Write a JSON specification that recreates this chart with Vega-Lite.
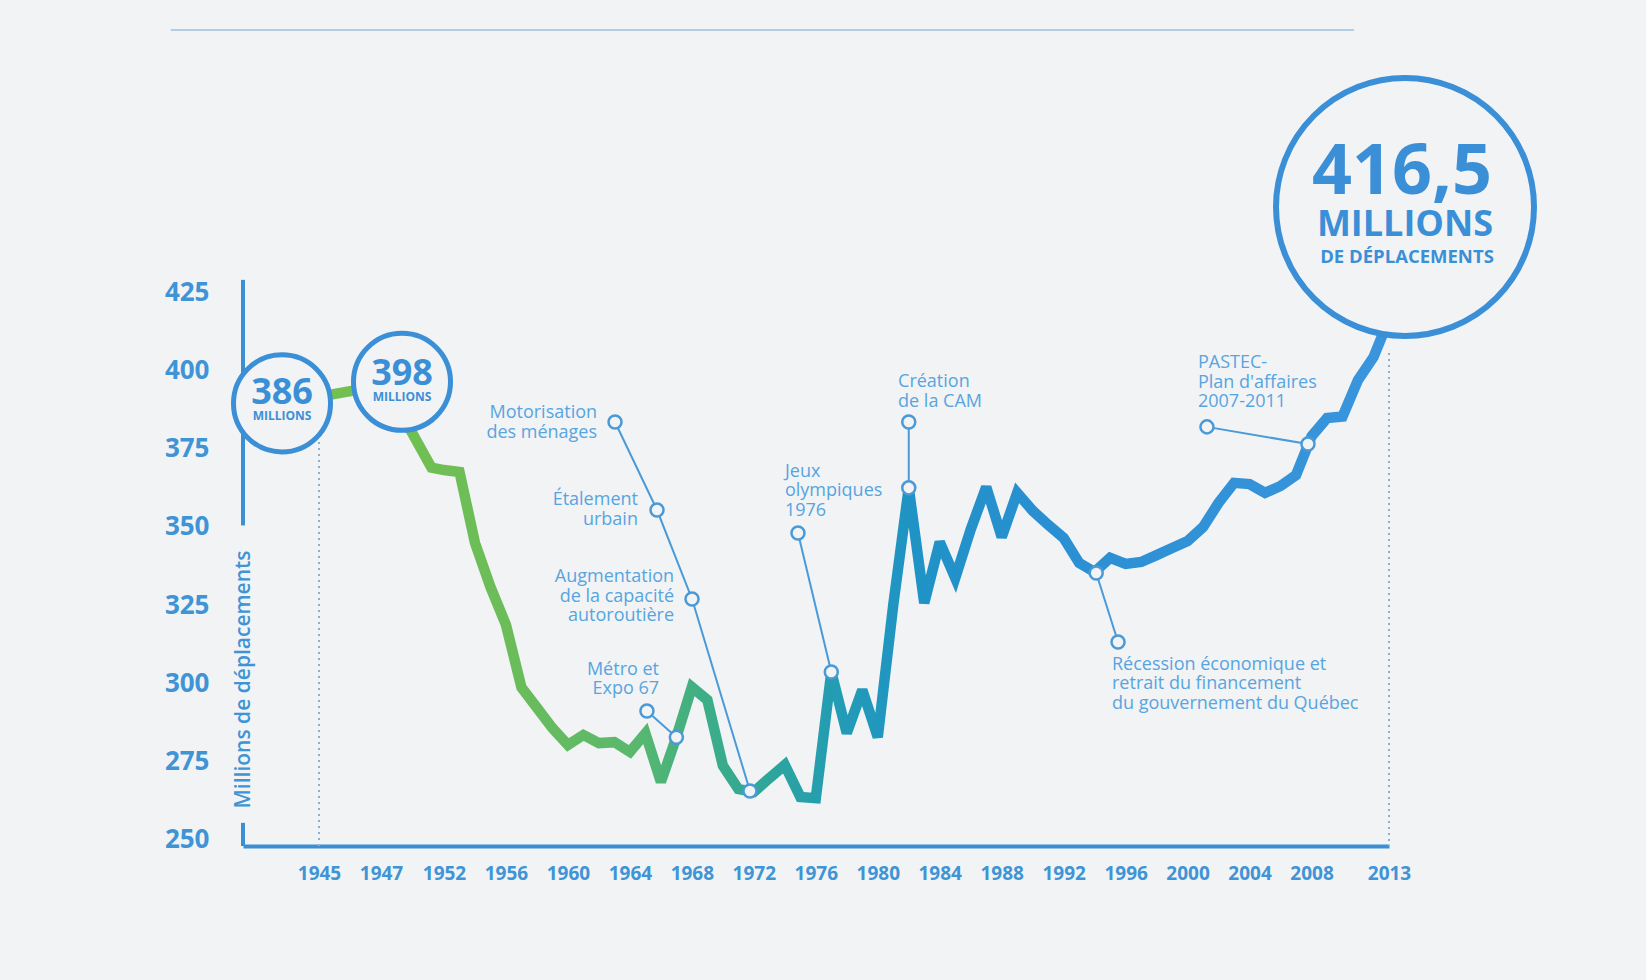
{
  "$schema": "https://vega.github.io/schema/vega-lite/v6.json",
  "width": 1146,
  "height": 563,
  "autosize": {"type": "none"},
  "padding": {"left": 243, "top": 283, "right": 257, "bottom": 134},
  "background": "#f1f3f5",
  "config": {"view": {"stroke": null}, "font": "Open Sans"},
  "datasets": {
    "series": [
      {"year": 1947, "value": 398},
      {"year": 1951, "value": 369.0},
      {"year": 1952, "value": 368.2},
      {"year": 1953, "value": 367.6},
      {"year": 1954, "value": 344.9},
      {"year": 1955, "value": 330.8},
      {"year": 1956, "value": 318.7},
      {"year": 1957, "value": 298.7},
      {"year": 1958, "value": 292.2},
      {"year": 1959, "value": 285.7},
      {"year": 1960, "value": 280.3},
      {"year": 1961, "value": 283.5},
      {"year": 1962, "value": 280.9},
      {"year": 1963, "value": 281.2},
      {"year": 1964, "value": 278.1},
      {"year": 1965, "value": 284.0},
      {"year": 1966, "value": 268.5},
      {"year": 1967, "value": 282.8},
      {"year": 1968, "value": 298.8},
      {"year": 1969, "value": 294.7},
      {"year": 1970, "value": 273.7},
      {"year": 1971, "value": 266.2},
      {"year": 1972, "value": 265.3},
      {"year": 1973, "value": 269.7},
      {"year": 1974, "value": 273.9},
      {"year": 1975, "value": 263.7},
      {"year": 1976, "value": 263.3},
      {"year": 1977, "value": 303.6},
      {"year": 1978, "value": 284.1},
      {"year": 1979, "value": 297.9},
      {"year": 1980, "value": 282.8},
      {"year": 1981, "value": 325.1},
      {"year": 1982, "value": 362.5},
      {"year": 1983, "value": 325.7},
      {"year": 1984, "value": 345.2},
      {"year": 1985, "value": 333.7},
      {"year": 1986, "value": 349.2},
      {"year": 1987, "value": 362.8},
      {"year": 1988, "value": 346.8},
      {"year": 1989, "value": 360.9},
      {"year": 1990, "value": 355.2},
      {"year": 1991, "value": 350.7},
      {"year": 1992, "value": 346.5},
      {"year": 1993, "value": 338.5},
      {"year": 1994, "value": 335.6},
      {"year": 1995, "value": 340.1},
      {"year": 1996, "value": 338.2},
      {"year": 1997, "value": 338.8},
      {"year": 1998, "value": 341.0},
      {"year": 1999, "value": 343.3},
      {"year": 2000, "value": 345.5},
      {"year": 2001, "value": 350.0},
      {"year": 2002, "value": 357.7},
      {"year": 2003, "value": 364.1},
      {"year": 2004, "value": 363.7},
      {"year": 2005, "value": 360.9},
      {"year": 2006, "value": 363.1},
      {"year": 2007, "value": 366.6},
      {"year": 2008, "value": 379.0},
      {"year": 2009, "value": 384.8},
      {"year": 2010, "value": 385.3},
      {"year": 2011, "value": 397.0},
      {"year": 2012, "value": 404.3},
      {"year": 2013, "value": 416.5}
    ],
    "circles": [
      {"year": 1945, "value": 386, "label": "386"},
      {"year": 1947, "value": 398, "label": "398"},
      {"year": 2013, "value": 416.5, "label": "416,5"}
    ],
    "connector": [{"year": 1945, "value": 386, "year2": 1947, "value2": 398}],
    "leaders": [
      {"g": "mot", "o": 1, "year": 1963.04, "value": 383.56},
      {"g": "mot", "o": 2, "year": 1965.75, "value": 355.42},
      {"g": "mot", "o": 3, "year": 1968.01, "value": 326.97},
      {"g": "mot", "o": 4, "year": 1971.75, "value": 265.6},
      {"g": "metro", "o": 1, "year": 1965.1, "value": 291.16},
      {"g": "metro", "o": 2, "year": 1967.0, "value": 282.8},
      {"g": "jeux", "o": 1, "year": 1974.85, "value": 348.07},
      {"g": "jeux", "o": 2, "year": 1977.0, "value": 303.6},
      {"g": "cam", "o": 1, "year": 1982.0, "value": 383.56},
      {"g": "cam", "o": 2, "year": 1982.0, "value": 362.5},
      {"g": "rec", "o": 1, "year": 1995.51, "value": 313.2},
      {"g": "rec", "o": 2, "year": 1994.1, "value": 335.3},
      {"g": "pastec", "o": 1, "year": 2001.25, "value": 382.0},
      {"g": "pastec", "o": 2, "year": 2007.77, "value": 376.5}
    ],
    "notesR": [
      {"lines": ["Motorisation", "des ménages"], "year": 1961.88, "value": 386.4},
      {"lines": ["Étalement", "urbain"], "year": 1964.52, "value": 358.6},
      {"lines": ["Augmentation", "de la capacité", "autoroutière"], "year": 1966.85, "value": 334.0},
      {"lines": ["Métro et", "Expo 67"], "year": 1965.88, "value": 304.3}
    ],
    "notesL": [
      {"lines": ["Jeux", "olympiques", "1976"], "year": 1974.01, "value": 367.6},
      {"lines": ["Création", "de la CAM"], "year": 1981.31, "value": 396.3},
      {"lines": ["Récession économique et", "retrait du financement", "du gouvernement du Québec"], "year": 1995.12, "value": 305.9},
      {"lines": ["PASTEC-", "Plan d'affaires", "2007-2011"], "year": 2000.67, "value": 402.4}
    ],
    "dots": [
      {"year": 1945, "top": 377.2, "bottom": 248},
      {"year": 2013, "top": 405.6, "bottom": 248}
    ],
    "yline": [
      {"year": 1943, "top": 429.0, "bottom": 350.5},
      {"year": 1943, "top": 255.4, "bottom": 248}
    ],
    "topline": [{"year": 1941.1, "year2": 2010.74, "value": 508.9}]
  },
  "layer": [
    {
      "data": {"name": "series"},
      "mark": {
        "type": "line",
        "strokeWidth": 10.5,
        "strokeJoin": "miter",
        "strokeMiterLimit": 3,
        "color": {
          "gradient": "linear",
          "x1": 0, "y1": 0, "x2": 1, "y2": 0,
          "stops": [
            {"offset": 0, "color": "#72c052"},
            {"offset": 0.12, "color": "#6cbd58"},
            {"offset": 0.25, "color": "#5ab86c"},
            {"offset": 0.32, "color": "#3eae86"},
            {"offset": 0.39, "color": "#2ca59d"},
            {"offset": 0.45, "color": "#239cb4"},
            {"offset": 0.53, "color": "#1f93c6"},
            {"offset": 0.66, "color": "#2a8fd2"},
            {"offset": 1, "color": "#3a95dd"}
          ]
        }
      },
      "encoding": {
        "x": {
          "field": "year", "type": "quantitative",
          "scale": {"domain": [1943, 1945, 1947, 1952, 2013], "range": [0, 76, 138, 201, 1146], "nice": false, "zero": false},
          "axis": {
            "values": [1945, 1947, 1952, 1956, 1960, 1964, 1968, 1972, 1976, 1980, 1984, 1988, 1992, 1996, 2000, 2004, 2008, 2013],
            "format": "d", "labelFlush": false, "labelOverlap": false,
            "domain": true, "domainColor": "#3b8fd4", "domainWidth": 4,
            "ticks": false, "grid": false,
            "labelColor": "#3f94d6", "labelFont": "Open Sans", "labelFontSize": 19, "labelFontWeight": "bold",
            "labelPadding": 27, "labelBaseline": "middle", "title": null
          }
        },
        "y": {
          "field": "value", "type": "quantitative",
          "scale": {"domain": [248, 428], "nice": false, "zero": false},
          "axis": {
            "values": [250, 275, 300, 325, 350, 375, 400, 425],
            "domain": false, "ticks": false, "grid": false,
            "labelColor": "#3f94d6", "labelFont": "Open Sans", "labelFontSize": 26, "labelFontWeight": "bold",
            "labelPadding": 34, "labelBaseline": "middle",
            "title": "Millions de déplacements", "titleX": 0, "titleY": 396, "titleAngle": 270,
            "titleAlign": "center", "titleBaseline": "middle", "titleColor": "#3f94d6",
            "titleFont": "Open Sans", "titleFontSize": 21, "titleFontWeight": 600
          }
        },
        "order": {"field": "year"}
      }
    },
    {
      "data": {"name": "topline"},
      "mark": {"type": "rule", "color": "#b3cde2", "strokeWidth": 2},
      "encoding": {
        "x": {"field": "year", "type": "quantitative"},
        "x2": {"field": "year2"},
        "y": {"field": "value", "type": "quantitative"}
      }
    },
    {
      "data": {"name": "dots"},
      "mark": {"type": "rule", "color": "#8fb0cc", "strokeWidth": 2, "strokeDash": [2, 4]},
      "encoding": {
        "x": {"field": "year", "type": "quantitative"},
        "y": {"field": "top", "type": "quantitative"},
        "y2": {"field": "bottom"}
      }
    },
    {
      "data": {"name": "yline"},
      "mark": {"type": "rule", "color": "#3b8fd4", "strokeWidth": 4},
      "encoding": {
        "x": {"field": "year", "type": "quantitative"},
        "y": {"field": "top", "type": "quantitative"},
        "y2": {"field": "bottom"}
      }
    },
    {
      "data": {"name": "connector"},
      "mark": {"type": "rule", "color": "#72c052", "strokeWidth": 10.5, "xOffset": -37, "yOffset": -11, "x2Offset": 21, "y2Offset": 5},
      "encoding": {
        "x": {"field": "year", "type": "quantitative"},
        "x2": {"field": "year2"},
        "y": {"field": "value", "type": "quantitative"},
        "y2": {"field": "value2"}
      }
    },
    {
      "data": {"name": "leaders"},
      "mark": {"type": "line", "color": "#4a9ad8", "strokeWidth": 2},
      "encoding": {
        "x": {"field": "year", "type": "quantitative"},
        "y": {"field": "value", "type": "quantitative"},
        "detail": {"field": "g"},
        "order": {"field": "o"}
      }
    },
    {
      "data": {"name": "leaders"},
      "mark": {"type": "point", "shape": "circle", "filled": true, "fill": "#f1f3f5", "stroke": "#4a9ad8", "strokeWidth": 2.5, "opacity": 1, "size": 170},
      "encoding": {
        "x": {"field": "year", "type": "quantitative"},
        "y": {"field": "value", "type": "quantitative"}
      }
    },
    {
      "data": {"name": "notesR"},
      "mark": {"type": "text", "align": "right", "baseline": "middle", "font": "Open Sans", "fontSize": 18, "lineHeight": 19.5, "color": "#57a5e0"},
      "encoding": {
        "x": {"field": "year", "type": "quantitative"},
        "y": {"field": "value", "type": "quantitative"},
        "text": {"field": "lines"}
      }
    },
    {
      "data": {"name": "notesL"},
      "mark": {"type": "text", "align": "left", "baseline": "middle", "font": "Open Sans", "fontSize": 18, "lineHeight": 19.5, "color": "#57a5e0"},
      "encoding": {
        "x": {"field": "year", "type": "quantitative"},
        "y": {"field": "value", "type": "quantitative"},
        "text": {"field": "lines"}
      }
    },
    {
      "data": {"name": "circles"},
      "transform": [{"filter": "datum.year == 1945"}],
      "mark": {"type": "point", "shape": "circle", "filled": true, "fill": "#f1f3f5", "stroke": "#3b8fd6", "strokeWidth": 5, "opacity": 1, "size": 9409, "xOffset": -37, "yOffset": -11},
      "encoding": {
        "x": {"field": "year", "type": "quantitative"},
        "y": {"field": "value", "type": "quantitative"}
      }
    },
    {
      "data": {"name": "circles"},
      "transform": [{"filter": "datum.year == 1947"}],
      "mark": {"type": "point", "shape": "circle", "filled": true, "fill": "#f1f3f5", "stroke": "#3b8fd6", "strokeWidth": 5, "opacity": 1, "size": 9409, "xOffset": 21, "yOffset": 5},
      "encoding": {
        "x": {"field": "year", "type": "quantitative"},
        "y": {"field": "value", "type": "quantitative"}
      }
    },
    {
      "data": {"name": "circles"},
      "transform": [{"filter": "datum.year == 2013"}],
      "mark": {"type": "point", "shape": "circle", "filled": true, "fill": "#f1f3f5", "stroke": "#3b8fd6", "strokeWidth": 6, "opacity": 1, "size": 66564, "xOffset": 16, "yOffset": -112},
      "encoding": {
        "x": {"field": "year", "type": "quantitative"},
        "y": {"field": "value", "type": "quantitative"}
      }
    },
    {
      "data": {"name": "circles"},
      "transform": [{"filter": "datum.year == 1945"}],
      "mark": {"type": "text", "align": "center", "baseline": "middle", "font": "Open Sans", "fontSize": 36, "fontWeight": "bold", "color": "#3b8fd6", "dx": -37, "dy": -21},
      "encoding": {
        "x": {"field": "year", "type": "quantitative"},
        "y": {"field": "value", "type": "quantitative"},
        "text": {"field": "label"}
      }
    },
    {
      "data": {"name": "circles"},
      "transform": [{"filter": "datum.year == 1945"}],
      "mark": {"type": "text", "align": "center", "baseline": "middle", "font": "Open Sans", "fontSize": 12, "fontWeight": "bold", "color": "#3b8fd6", "dx": -37, "dy": 2},
      "encoding": {
        "x": {"field": "year", "type": "quantitative"},
        "y": {"field": "value", "type": "quantitative"},
        "text": {"value": "MILLIONS"}
      }
    },
    {
      "data": {"name": "circles"},
      "transform": [{"filter": "datum.year == 1947"}],
      "mark": {"type": "text", "align": "center", "baseline": "middle", "font": "Open Sans", "fontSize": 36, "fontWeight": "bold", "color": "#3b8fd6", "dx": 21, "dy": -3},
      "encoding": {
        "x": {"field": "year", "type": "quantitative"},
        "y": {"field": "value", "type": "quantitative"},
        "text": {"field": "label"}
      }
    },
    {
      "data": {"name": "circles"},
      "transform": [{"filter": "datum.year == 1947"}],
      "mark": {"type": "text", "align": "center", "baseline": "middle", "font": "Open Sans", "fontSize": 12, "fontWeight": "bold", "color": "#3b8fd6", "dx": 21, "dy": 20},
      "encoding": {
        "x": {"field": "year", "type": "quantitative"},
        "y": {"field": "value", "type": "quantitative"},
        "text": {"value": "MILLIONS"}
      }
    },
    {
      "data": {"name": "circles"},
      "transform": [{"filter": "datum.year == 2013"}],
      "mark": {"type": "text", "align": "center", "baseline": "middle", "font": "Open Sans", "fontSize": 70, "fontWeight": "bold", "color": "#3b8fd6", "dx": 13, "dy": -146},
      "encoding": {
        "x": {"field": "year", "type": "quantitative"},
        "y": {"field": "value", "type": "quantitative"},
        "text": {"field": "label"}
      }
    },
    {
      "data": {"name": "circles"},
      "transform": [{"filter": "datum.year == 2013"}],
      "mark": {"type": "text", "align": "center", "baseline": "middle", "font": "Open Sans", "fontSize": 36, "fontWeight": "bold", "color": "#3b8fd6", "dx": 16, "dy": -94},
      "encoding": {
        "x": {"field": "year", "type": "quantitative"},
        "y": {"field": "value", "type": "quantitative"},
        "text": {"value": "MILLIONS"}
      }
    },
    {
      "data": {"name": "circles"},
      "transform": [{"filter": "datum.year == 2013"}],
      "mark": {"type": "text", "align": "center", "baseline": "middle", "font": "Open Sans", "fontSize": 18.5, "fontWeight": "bold", "color": "#3b8fd6", "dx": 18, "dy": -62},
      "encoding": {
        "x": {"field": "year", "type": "quantitative"},
        "y": {"field": "value", "type": "quantitative"},
        "text": {"value": "DE DÉPLACEMENTS"}
      }
    }
  ]
}
